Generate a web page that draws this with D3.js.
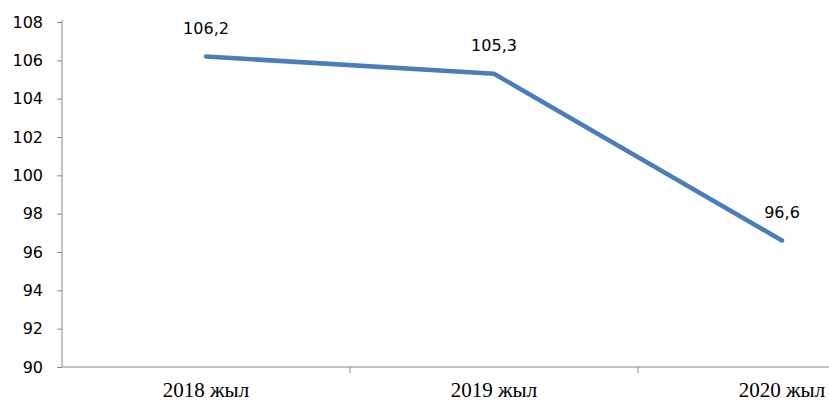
<!DOCTYPE html>
<html>
<head>
<meta charset="utf-8">
<script src="https://cdn.jsdelivr.net/npm/d3@7"></script>
<style>
  body { margin: 0; background: #fff; overflow: hidden; }
  .tick text { font-family: "DejaVu Sans", Verdana, sans-serif; }
</style>
</head>
<body>
<script>
// chart data
var years = ["2018 жыл", "2019 жыл", "2020 жыл"];
var values = [106.2, 105.3, 96.6];
var valueLabels = ["106,2", "105,3", "96,6"];
var yTicks = [90, 92, 94, 96, 98, 100, 102, 104, 106, 108];

var width = 829, height = 401;
// the plot runs past the right edge of the picture, like the original
var margin = {top: 22, left: 62, bottom: 34},
    plotW = 864;

var svg = d3.select("body").append("svg")
    .attr("width", width)
    .attr("height", height);

var x = d3.scaleBand()
    .domain(years)
    .range([margin.left, margin.left + plotW]);

var y = d3.scaleLinear()
    .domain([90, 108])
    .range([height - margin.bottom, margin.top]);

var axisColor = "#868686";

// y axis
var yAxis = svg.append("g")
    .attr("transform", "translate(" + margin.left + ",0)")
    .call(d3.axisLeft(y).tickValues(yTicks).tickSize(5).tickPadding(14).tickFormat(d3.format("d")));
yAxis.select(".domain").attr("stroke", axisColor).attr("d", "M0," + (margin.top - 2) + "V" + y(90));
yAxis.selectAll(".tick line").attr("stroke", axisColor);
yAxis.selectAll(".tick text")
    .attr("fill", "#000")
    .style("font-size", "16px");

// x axis: ticks between the categories
var xAxis = svg.append("g")
    .attr("transform", "translate(0," + y(90) + ")");
xAxis.append("line")
    .attr("x1", margin.left).attr("x2", width)
    .attr("stroke", axisColor);
xAxis.selectAll(".sep")
    .data(years.slice(1))
  .enter().append("line")
    .attr("class", "sep")
    .attr("x1", function(d) { return x(d); })
    .attr("x2", function(d) { return x(d); })
    .attr("y1", 0).attr("y2", 6)
    .attr("stroke", axisColor);
xAxis.selectAll(".cat")
    .data(years)
  .enter().append("text")
    .attr("class", "cat")
    .attr("x", function(d) { return x(d) + x.bandwidth() / 2; })
    .attr("y", 30)
    .attr("text-anchor", "middle")
    .style("font-family", "'Liberation Serif', 'Times New Roman', serif")
    .style("font-size", "21px")
    .text(function(d) { return d; });

// the line
var line = d3.line()
    .x(function(d, i) { return x(years[i]) + x.bandwidth() / 2; })
    .y(function(d) { return y(d); });

svg.append("path")
    .datum(values)
    .attr("fill", "none")
    .attr("stroke", "#4a7ebb")
    .attr("stroke-width", 4.5)
    .attr("stroke-linecap", "round")
    .attr("stroke-linejoin", "round")
    .attr("d", line);

// value labels
svg.selectAll(".val")
    .data(values)
  .enter().append("text")
    .attr("class", "val")
    .attr("x", function(d, i) { return x(years[i]) + x.bandwidth() / 2; })
    .attr("y", function(d) { return y(d) - 23; })
    .attr("text-anchor", "middle")
    .style("font-family", "'DejaVu Sans', Verdana, sans-serif")
    .style("font-size", "16px")
    .text(function(d, i) { return valueLabels[i]; });
</script>
</body>
</html>
